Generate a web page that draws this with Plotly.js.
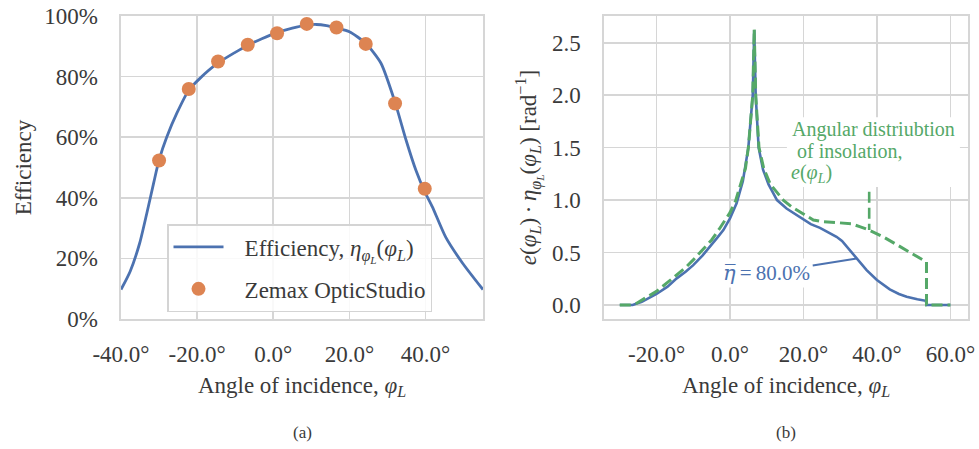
<!DOCTYPE html>
<html>
<head>
<meta charset="utf-8">
<script src="https://cdn.plot.ly/plotly-3.0.1.min.js"></script>
<style>html,body{margin:0;padding:0;background:#fff;}#chart{width:979px;height:449px;}</style>
</head>
<body>
<div id="chart"></div>
<script>
// ---- (a) efficiency vs angle ----
const effAngle = [-40, -37.6, -35.1, -33.2, -31.4, -30, -28, -25.3, -22.2, -19.2, -14.5, -10, -6.8, -3, 1, 5, 8.8, 11.3, 14, 16.6, 20, 24.3, 28.3, 32, 34.9, 37.5, 39.8, 41.8, 45.3, 49.7, 55.1];
const effValue = [0.097, 0.157, 0.25, 0.35, 0.45, 0.525, 0.60, 0.68, 0.755, 0.795, 0.845, 0.88, 0.903, 0.925, 0.945, 0.96, 0.97, 0.972, 0.968, 0.96, 0.948, 0.91, 0.844, 0.715, 0.59, 0.49, 0.42, 0.37, 0.27, 0.185, 0.097];
const zemaxAngle = [-30.0, -22.2, -14.5, -6.7, 1.0, 8.8, 16.6, 24.3, 32.0, 39.8];
const zemaxValue = [0.523, 0.759, 0.850, 0.905, 0.943, 0.974, 0.962, 0.908, 0.711, 0.430];

// ---- (b) angular distribution ----
const insolAngle = [-30, -27, -25.5, -24, -20, -17, -14.5, -12, -10, -7.5, -5, -3, -1, 0, 1.5, 3, 4.2, 5.0, 5.7, 6.2, 6.6, 7.0, 7.9, 9.2, 11, 14.5, 17, 20, 22.7, 25, 28, 31, 33, 35.5, 37.9, 41.7, 46.3, 50.3, 53.5, 53.5, 60];
const insolValue = [0, 0, 0.015, 0.045, 0.13, 0.215, 0.29, 0.36, 0.43, 0.52, 0.62, 0.72, 0.83, 0.88, 0.99, 1.15, 1.3, 1.5, 1.75, 2.0, 2.63, 2.0, 1.5, 1.3, 1.15, 1.0, 0.93, 0.87, 0.81, 0.795, 0.79, 0.785, 0.775, 0.745, 0.714, 0.65, 0.555, 0.476, 0.41, 0, 0];
const prodAngle = [-30, -26.5, -24, -20, -17, -14.5, -12, -10, -7.5, -5.4, -3.5, -1.8, 0, 1.8, 3.5, 5.0, 5.7, 6.2, 6.6, 7.0, 7.8, 9.0, 10.5, 12.8, 15.4, 18, 20, 22, 24.5, 27, 29, 30.5, 31.8, 33, 34.5, 36, 37.2, 40, 43.5, 46, 48.1, 51, 53.3, 53.6, 60];
const prodValue = [0, 0, 0.03, 0.105, 0.175, 0.254, 0.32, 0.38, 0.47, 0.555, 0.64, 0.714, 0.826, 0.97, 1.18, 1.5, 1.75, 2.0, 2.62, 2.0, 1.5, 1.29, 1.15, 1.0, 0.92, 0.86, 0.81, 0.77, 0.735, 0.69, 0.65, 0.61, 0.555, 0.5, 0.444, 0.38, 0.333, 0.238, 0.149, 0.105, 0.079, 0.055, 0.04, 0, 0];

// ---- ticks ----
const xTickValsA = [-40, -20, 0, 20, 40];
const xTickTextA = ['-40.0°', '-20.0°', '0.0°', '20.0°', '40.0°'];
const yTickValsA = [0, 0.2, 0.4, 0.6, 0.8, 1.0];
const yTickTextA = ['0%', '20%', '40%', '60%', '80%', '100%'];
const xTickValsB = [-20, 0, 20, 40, 60];
const xTickTextB = ['-20.0°', '0.0°', '20.0°', '40.0°', '60.0°'];
const yTickValsB = [0, 0.5, 1.0, 1.5, 2.0, 2.5];
const yTickTextB = ['0.0', '0.5', '1.0', '1.5', '2.0', '2.5'];

const BLUE = '#4c72b0', ORANGE = '#dd8452', GREEN = '#55a868';
const FONT = 'Liberation Serif, Times New Roman, serif';
const TXT = '#3a3a3a';
const GRID = '#d6d6d6';
const FS = 23;

const traces = [
  {x: effAngle, y: effValue, xaxis: 'x', yaxis: 'y', type: 'scatter', mode: 'lines',
   line: {color: BLUE, width: 2.8, shape: 'spline', smoothing: 0.6},
   name: '\u2002\u2009Efficiency, <i>η</i><sub><i>φ<sub>L</sub></i></sub>(<i>φ</i><sub><i>L</i></sub>)', legendgroup: 'a'},
  {x: zemaxAngle, y: zemaxValue, xaxis: 'x', yaxis: 'y', type: 'scatter', mode: 'markers',
   marker: {color: ORANGE, size: 14}, name: '\u2002\u2009Zemax OpticStudio', legendgroup: 'b'},
  {x: prodAngle, y: prodValue, xaxis: 'x2', yaxis: 'y2', type: 'scatter', mode: 'lines',
   line: {color: BLUE, width: 2.6}, showlegend: false},
  {x: insolAngle, y: insolValue, xaxis: 'x2', yaxis: 'y2', type: 'scatter', mode: 'lines',
   line: {color: GREEN, width: 3, dash: '11px,5px'}, showlegend: false}
];

function axis(extra) {
  return Object.assign({
    showgrid: true, gridcolor: GRID, gridwidth: 1.6, zeroline: false,
    showline: true, mirror: true, linecolor: GRID, linewidth: 1.6,
    ticks: 'outside', ticklen: 17, tickcolor: 'rgba(255,255,255,0)',
    tickfont: {family: FONT, size: FS, color: TXT},
    tickmode: 'array', fixedrange: true
  }, extra);
}

const layout = {
  width: 979, height: 449,
  margin: {l: 0, r: 0, t: 16, b: 130, pad: 0},
  paper_bgcolor: '#fff', plot_bgcolor: '#fff',
  font: {family: FONT, size: FS, color: TXT},
  xaxis: axis({domain: [121/979, 483/979], range: [-40, 55.1], anchor: 'y', ticklen: 14,
    tickvals: xTickValsA, ticktext: xTickTextA,
    title: {text: 'Angle of incidence, <i>φ</i><sub><i>L</i></sub>', font: {family: FONT, size: FS, color: TXT}, standoff: 10}}),
  yaxis: axis({domain: [0, 1], range: [0, 1], anchor: 'x',
    tickvals: yTickValsA, ticktext: yTickTextA,
    title: {text: 'Efficiency', font: {family: FONT, size: FS, color: TXT}, standoff: 6}}),
  xaxis2: axis({domain: [604/979, 968/979], range: [-34.3, 64.8], anchor: 'y2', ticklen: 14,
    tickvals: xTickValsB, ticktext: xTickTextB,
    title: {text: 'Angle of incidence, <i>φ</i><sub><i>L</i></sub>', font: {family: FONT, size: FS, color: TXT}, standoff: 10}}),
  yaxis2: axis({domain: [0, 1], range: [-0.1335, 2.7545], anchor: 'x2',
    tickvals: yTickValsB, ticktext: yTickTextB,
    title: {text: '<i>e</i>(<i>φ</i><sub><i>L</i></sub>)\u2009·\u2009<i>η</i><sub><i>φ<sub>L</sub></i></sub>(<i>φ</i><sub><i>L</i></sub>) [rad<sup>−1</sup>]', font: {family: FONT, size: FS, color: TXT}, standoff: 9}}),
  legend: {x: 167/979, y: 0.3135, xanchor: 'left', yanchor: 'top',
    bgcolor: 'rgba(255,255,255,0.85)', bordercolor: '#d4d4d4', borderwidth: 1.5,
    font: {family: FONT, size: FS, color: TXT}, itemwidth: 50, tracegroupgap: 9},
  shapes: [
    {type: 'rect', xref: 'x2', yref: 'y2', x0: 15.5, x1: 62.6, y0: 1.124, y1: 1.79,
     fillcolor: '#fff', line: {width: 0}, layer: 'above'},
    {type: 'line', xref: 'x2', yref: 'y2', x0: 37.9, x1: 37.9, y0: 1.08, y1: 0.714,
     line: {color: GREEN, width: 2.6, dash: '11px,5px'}}
  ],
  annotations: [
    {xref: 'x2', yref: 'y2', x: 16.3, y: 1.676, xanchor: 'left', yanchor: 'middle', showarrow: false,
     text: 'Angular distriubtion', font: {family: FONT, size: 20, color: GREEN}},
    {xref: 'x2', yref: 'y2', x: 17.7, y: 1.467, xanchor: 'left', yanchor: 'middle', showarrow: false,
     text: 'of insolation,', font: {family: FONT, size: 20, color: GREEN}},
    {xref: 'x2', yref: 'y2', x: 16.05, y: 1.257, xanchor: 'left', yanchor: 'middle', showarrow: false,
     text: '<i>e</i>(<i>φ</i><sub><i>L</i></sub>)', font: {family: FONT, size: 20, color: GREEN}},
    {xref: 'x2', yref: 'y2', x: 34.5, y: 0.444, axref: 'x2', ayref: 'y2', ax: 10.0, ay: 0.305,
     showarrow: true, arrowhead: 0, arrowwidth: 2, arrowcolor: BLUE, standoff: 0,
     bgcolor: '#fff', borderpad: 2,
     text: '<i><span style="font-family:DejaVu Serif">η\u0305</span></i>\u2009=\u200980.0%', font: {family: FONT, size: 21, color: BLUE}},
    {xref: 'paper', yref: 'paper', x: 302/979, y: (319-433)/303, xanchor: 'center', yanchor: 'middle', showarrow: false,
     text: '(a)', font: {family: FONT, size: 17, color: TXT}},
    {xref: 'paper', yref: 'paper', x: 786/979, y: (319-433)/303, xanchor: 'center', yanchor: 'middle', showarrow: false,
     text: '(b)', font: {family: FONT, size: 17, color: TXT}}
  ]
};

Plotly.newPlot('chart', traces, layout, {staticPlot: true, displayModeBar: false});
</script>
</body>
</html>
